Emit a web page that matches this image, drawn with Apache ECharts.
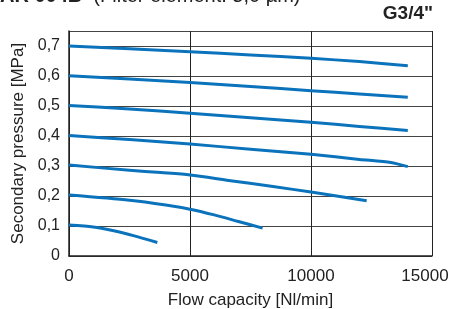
<!DOCTYPE html>
<html>
<head>
<meta charset="utf-8">
<script src="https://cdn.jsdelivr.net/npm/echarts@6/dist/echarts.min.js"></script>
<style>
html, body { margin: 0; padding: 0; background: #fff; }
#chart { width: 449px; height: 309px; }
</style>
</head>
<body>
<div id="chart"></div>
<script>
// flow [Nl/min], secondary pressure [MPa]
var curve07 = [[0, 0.700], [2500, 0.691], [5000, 0.681], [7500, 0.670], [10000, 0.659], [12000, 0.648], [14000, 0.634]];
var curve06 = [[0, 0.601], [2500, 0.590], [5000, 0.578], [7500, 0.565], [10000, 0.551], [12000, 0.540], [14000, 0.529]];
var curve05 = [[0, 0.502], [2500, 0.490], [5000, 0.476], [7500, 0.461], [10000, 0.446], [12000, 0.432], [14000, 0.418]];
var curve04 = [[0, 0.402], [2500, 0.388], [5000, 0.373], [7500, 0.356], [10000, 0.339], [12000, 0.322], [13300, 0.312], [14000, 0.298]];
var curve03 = [[0, 0.303], [2500, 0.286], [3800, 0.278], [5000, 0.270], [6600, 0.252], [8500, 0.231], [10000, 0.213], [12300, 0.184]];
var curve02 = [[0, 0.203], [2500, 0.186], [4000, 0.170], [5000, 0.156], [6000, 0.137], [7000, 0.115], [8000, 0.093]];
var curve01 = [[0, 0.103], [1000, 0.097], [1800, 0.085], [2700, 0.067], [3650, 0.045]];
var xTicks = [0, 5000, 10000, 15000];
var yTicks = [0, 0.1, 0.2, 0.3, 0.4, 0.5, 0.6, 0.7];

var lineColor = '#0b73bb';

function curve(data) {
    return {
        type: 'line',
        data: data,
        smooth: 0.25,
        showSymbol: false,
        lineStyle: { color: lineColor, width: 3, cap: 'butt', join: 'round' }
    };
}

var chart = echarts.init(document.getElementById('chart'), null, { renderer: 'canvas' });
chart.setOption({
    animation: false,
    backgroundColor: '#fff',
    textStyle: { fontFamily: 'Liberation Sans, Arial, sans-serif' },
    grid: { left: 69, right: 17, top: 31, bottom: 53, outerBoundsMode: 'none', containLabel: false },
    graphic: [
        {
            type: 'text', left: 0, top: -14,
            style: {
                text: '{b|AR 004B}  (Filter element: 5,0 µm)',
                fill: '#222', font: '20px Liberation Sans',
                rich: { b: { fontWeight: 'bold', fontSize: 20, fontFamily: 'Liberation Sans' } }
            }
        },
        {
            type: 'text', right: 16, top: 4,
            style: { text: 'G3/4"', fill: '#222', font: 'bold 19px Liberation Sans' }
        }
    ],
    xAxis: {
        type: 'value',
        min: xTicks[0], max: xTicks[xTicks.length - 1], interval: 5000,
        name: 'Flow capacity [Nl/min]',
        nameLocation: 'middle', nameGap: 36,
        nameTextStyle: { fontSize: 17, color: '#222' },
        axisLine: { show: true, lineStyle: { color: '#222', width: 1.5 } },
        axisTick: { show: false },
        axisLabel: {
            fontSize: 17, color: '#222', margin: 12,
            formatter: function (v) {
                return v === 15000 ? '{r|' + v + '}' : String(v);
            },
            rich: { r: { fontSize: 17, color: '#222', padding: [0, 14, 0, 0] } }
        },
        splitLine: { show: true, lineStyle: { color: '#222', width: 1 } }
    },
    yAxis: {
        type: 'value',
        min: yTicks[0], max: 0.75, interval: 0.1,
        name: 'Secondary pressure [MPa]',
        nameLocation: 'middle', nameGap: 42,
        nameTextStyle: { fontSize: 17, color: '#222' },
        axisLine: { show: true, lineStyle: { color: '#222', width: 1.5 } },
        axisTick: { show: false },
        axisLabel: {
            fontSize: 16, color: '#222', margin: 9,
            formatter: function (v) {
                if (v > 0.71) return '';
                return v === 0 ? '0' : v.toFixed(1).replace('.', ',');
            }
        },
        splitLine: { show: true, lineStyle: { color: '#444', width: 1 } }
    },
    series: [
        curve(curve07), curve(curve06), curve(curve05), curve(curve04),
        curve(curve03), curve(curve02), curve(curve01)
    ]
});
</script>
</body>
</html>
